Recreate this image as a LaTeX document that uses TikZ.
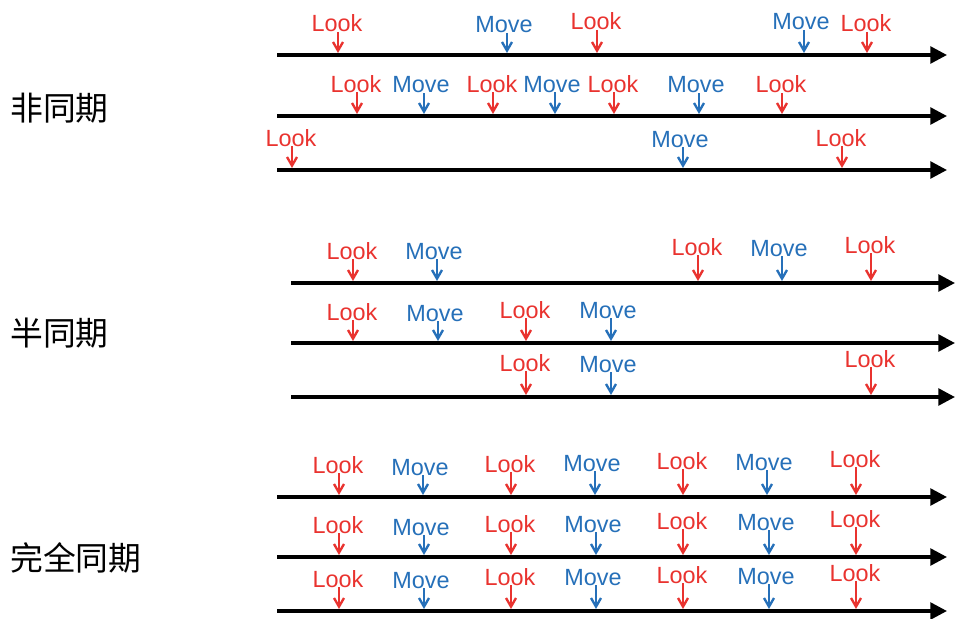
\documentclass[tikz,border=0pt]{standalone}
\usepackage{fontspec}
\setmainfont{Liberation Sans}
\newfontfamily\cjk{Noto Sans CJK SC}
\usetikzlibrary{arrows.meta}
\definecolor{lookred}{RGB}{233,51,47}
\definecolor{moveblue}{RGB}{38,112,185}

\begin{document}
\begin{tikzpicture}
                [
                x=0.03cm,y=-0.03cm,
                look/.style={text=lookred,font=\fontsize{20}{24}\selectfont,anchor=base,inner sep=0pt,xshift=-0.3mm},
                move/.style={text=moveblue,font=\fontsize{20}{24}\selectfont,anchor=base,inner sep=0pt,xshift=-0.9mm},
                look arrow/.style={draw=lookred,line width=2pt,-{Straight Barb[length=2.6mm,width=3mm]}},
                move arrow/.style={draw=moveblue,line width=2pt,-{Straight Barb[length=2.6mm,width=3mm]}},
                timeline/.style={line width=3pt,-{Triangle[length=5mm,width=5mm]}},
                mode/.style={font=\cjk\fontsize{28}{32}\selectfont,anchor=west,inner sep=0pt}
                ]
            \useasboundingbox (0,0) rectangle (955,619);
            % mode labels
            \node[mode] (async) at (10,108) {非同期};
            \node[mode] (semi) at (10,333) {半同期};
            \node[mode] (full) at (10,558) {完全同期};
            % time lines
            \coordinate (s1) at (277,55);  \coordinate (e1) at (947,55);
            \coordinate (s2) at (277,116); \coordinate (e2) at (947,116);
            \coordinate (s3) at (277,170); \coordinate (e3) at (947,170);
            \coordinate (s4) at (291,283); \coordinate (e4) at (955,283);
            \coordinate (s5) at (291,343); \coordinate (e5) at (955,343);
            \coordinate (s6) at (291,397); \coordinate (e6) at (955,397);
            \coordinate (s7) at (277,497); \coordinate (e7) at (947,497);
            \coordinate (s8) at (277,557); \coordinate (e8) at (947,557);
            \coordinate (s9) at (277,611); \coordinate (e9) at (947,611);
            \foreach \r in {1,...,9}
                \draw[timeline] (s\r) -- (e\r);
            % events: x / baseline / kind / text / line
            \foreach \x/\b/\k/\t/\r [count=\i] in {
                338/32/look/Look/1, 507/33/move/Move/1, 597/30/look/Look/1, 804/30/move/Move/1, 867/32/look/Look/1,
                357/92/look/Look/2, 424/93/move/Move/2, 493/92/look/Look/2, 555/92/move/Move/2, 614/92/look/Look/2, 699/93/move/Move/2, 782/93/look/Look/2,
                292/146/look/Look/3, 683/147/move/Move/3, 842/146/look/Look/3,
                353/259/look/Look/4, 437/259/move/Move/4, 698/255/look/Look/4, 782/256/move/Move/4, 871/253/look/Look/4,
                353/320/look/Look/5, 438/321/move/Move/5, 526/318/look/Look/5, 611/318/move/Move/5,
                526/371/look/Look/6, 611/372/move/Move/6, 871/367/look/Look/6,
                339/473/look/Look/7, 423/475/move/Move/7, 511/472/look/Look/7, 595/471/move/Move/7, 683/469/look/Look/7, 767/470/move/Move/7, 856/467/look/Look/7,
                339/533/look/Look/8, 424/535/move/Move/8, 511/532/look/Look/8, 596/532/move/Move/8, 683/529/look/Look/8, 769/530/move/Move/8, 856/527/look/Look/8,
                339/587/look/Look/9, 424/588/move/Move/9, 511/585/look/Look/9, 596/585/move/Move/9, 683/583/look/Look/9, 769/584/move/Move/9, 856/581/look/Look/9}
            {
                \node[\k] (ev\i) at (\x,\b) {\t};
                \coordinate (ev\i t) at (\x,0 |- s\r);
                \draw[\k\space arrow] (ev\i.base -| ev\i t) -- ([yshift=0.6mm]ev\i t);
            }
\end{tikzpicture}
\end{document}
